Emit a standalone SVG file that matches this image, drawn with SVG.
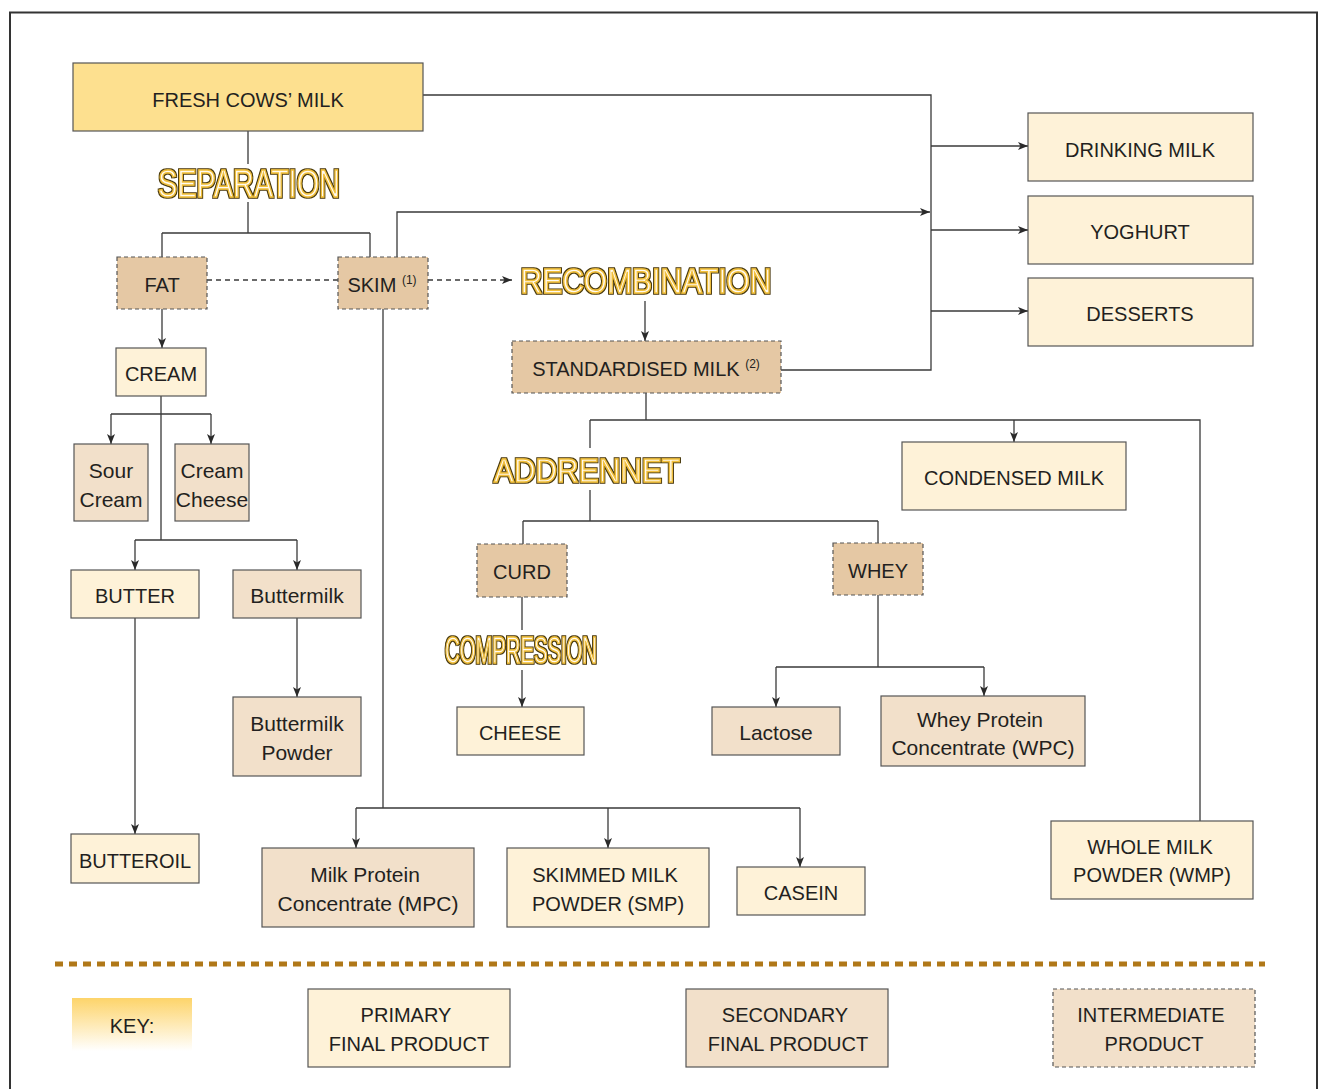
<svg xmlns="http://www.w3.org/2000/svg" width="1319" height="1089" viewBox="0 0 1319 1089">
<defs>
<style>
.n{stroke:#555;stroke-width:1.2}
.fresh{fill:#fde08f}
.pri{fill:#fef2d8}
.sec{fill:#f2e0ca}
.int{fill:#e5c8a4;stroke-dasharray:4 3}
.intk{fill:#f2e0ca;stroke-dasharray:4 3}
.t{font-family:"Liberation Sans",Arial,sans-serif;font-size:20px;fill:#231f20;text-anchor:middle}
.tl{font-size:21px}
.sup{font-size:12px}
.ttl{font-family:"Liberation Sans",Arial,sans-serif;fill:#fffaf0;stroke:#f2c03c;stroke-width:1.5;text-anchor:middle;filter:url(#outl)}
.c{fill:none;stroke:#3a3a3a;stroke-width:1.3}
.a{marker-end:url(#arr)}
.d{stroke-dasharray:5 4}
</style>
<marker id="arr" markerUnits="userSpaceOnUse" markerWidth="11" markerHeight="8" refX="10" refY="4" orient="auto">
<path d="M0,0 L10,4 L0,8 L2.5,4 z" fill="#2a2a2a"/>
</marker>
<filter id="outl" x="-5%" y="-30%" width="110%" height="160%">
<feMorphology in="SourceAlpha" operator="dilate" radius="0.6" result="d"/>
<feFlood flood-color="#4a3a10"/>
<feComposite in2="d" operator="in" result="o"/>
<feMerge><feMergeNode in="o"/><feMergeNode in="SourceGraphic"/></feMerge>
</filter>
<linearGradient id="keyg" x1="0" y1="0" x2="0" y2="1">
<stop offset="0" stop-color="#fdd46a"/>
<stop offset="1" stop-color="#ffffff"/>
</linearGradient>
</defs>
<rect x="0" y="0" width="1319" height="1089" fill="#fff"/>
<rect x="10" y="12.5" width="1307" height="1100" fill="none" stroke="#333" stroke-width="2"/>

<g id="connectors">
<path class="c" d="M248,131 V164 M248,202 V233 M162,233 H370 M162,233 V257 M370,233 V257"/>
<path class="c" d="M423,95 H931 V370 H781"/>
<path class="c a" d="M931,146 H1028"/>
<path class="c a" d="M931,230 H1028"/>
<path class="c a" d="M931,311 H1028"/>
<path class="c a" d="M397,257 V212 H930"/>
<path class="c d" d="M207,280 H338"/>
<path class="c d a" d="M428,280 H512"/>
<path class="c a" d="M162,309 V348"/>
<path class="c" d="M161,396 V540 M111,414 H211 M135,540 H297"/>
<path class="c a" d="M111,414 V444"/>
<path class="c a" d="M211,414 V444"/>
<path class="c a" d="M135,540 V570"/>
<path class="c a" d="M297,540 V570"/>
<path class="c a" d="M297,618 V697"/>
<path class="c a" d="M135,618 V834"/>
<path class="c" d="M383,309 V808 M356,808 H800"/>
<path class="c a" d="M356,808 V848"/>
<path class="c a" d="M608,808 V848"/>
<path class="c a" d="M800,808 V867"/>
<path class="c a" d="M645,301 V341"/>
<path class="c" d="M646,393 V420 M590,420 H1200 V821 M590,420 V448 M590,490 V521 M523,521 H878 M523,521 V544 M878,521 V543"/>
<path class="c a" d="M1014,420 V442"/>
<path class="c" d="M522,597 V630"/>
<path class="c a" d="M522,670 V707"/>
<path class="c" d="M878,595 V667 M776,667 H984"/>
<path class="c a" d="M776,667 V707"/>
<path class="c a" d="M984,667 V696"/>
</g>

<g id="labels">
<text class="ttl" x="249" y="197" font-size="38" textLength="182" lengthAdjust="spacingAndGlyphs">SEPARATION</text>
<text class="ttl" x="646" y="293" font-size="35" textLength="251" lengthAdjust="spacingAndGlyphs">RECOMBINATION</text>
<text class="ttl" x="587" y="482" font-size="34" textLength="186" lengthAdjust="spacingAndGlyphs">ADDRENNET</text>
<text class="ttl" x="521" y="663" font-size="36" textLength="152" lengthAdjust="spacingAndGlyphs">COMPRESSION</text>
</g>

<g id="fresh"><rect class="n fresh" x="73" y="63" width="350" height="68"/><text class="t" x="248" y="107">FRESH COWS’ MILK</text></g>
<g id="drinking"><rect class="n pri" x="1028" y="113" width="225" height="68"/><text class="t" x="1140" y="157">DRINKING MILK</text></g>
<g id="yoghurt"><rect class="n pri" x="1028" y="196" width="225" height="68"/><text class="t" x="1140" y="239">YOGHURT</text></g>
<g id="desserts"><rect class="n pri" x="1028" y="278" width="225" height="68"/><text class="t" x="1140" y="321">DESSERTS</text></g>
<g id="fat"><rect class="n int" x="117" y="257" width="90" height="52"/><text class="t" x="162" y="292">FAT</text></g>
<g id="skim"><rect class="n int" x="338" y="257" width="90" height="52"/><text class="t" x="382" y="292">SKIM <tspan class="sup" dy="-8">(1)</tspan></text></g>
<g id="cream"><rect class="n pri" x="116" y="348" width="90" height="48"/><text class="t" x="161" y="381">CREAM</text></g>
<g id="sourcream"><rect class="n sec" x="74" y="444" width="74" height="77"/><text class="t tl" x="111" y="478">Sour</text><text class="t tl" x="111" y="507">Cream</text></g>
<g id="creamcheese"><rect class="n sec" x="175" y="444" width="74" height="77"/><text class="t tl" x="212" y="478">Cream</text><text class="t tl" x="212" y="507">Cheese</text></g>
<g id="butter"><rect class="n pri" x="71" y="570" width="128" height="48"/><text class="t" x="135" y="603">BUTTER</text></g>
<g id="buttermilk"><rect class="n sec" x="233" y="570" width="128" height="48"/><text class="t tl" x="297" y="603">Buttermilk</text></g>
<g id="buttermilkpowder"><rect class="n sec" x="233" y="697" width="128" height="79"/><text class="t tl" x="297" y="731">Buttermilk</text><text class="t tl" x="297" y="760">Powder</text></g>
<g id="butteroil"><rect class="n pri" x="71" y="834" width="128" height="49"/><text class="t" x="135" y="868">BUTTEROIL</text></g>
<g id="standardised"><rect class="n int" x="512" y="341" width="269" height="52"/><text class="t" x="646" y="376">STANDARDISED MILK <tspan class="sup" dy="-8">(2)</tspan></text></g>
<g id="condensed"><rect class="n pri" x="902" y="442" width="224" height="68"/><text class="t" x="1014" y="485">CONDENSED MILK</text></g>
<g id="curd"><rect class="n int" x="477" y="544" width="90" height="53"/><text class="t" x="522" y="579">CURD</text></g>
<g id="whey"><rect class="n int" x="833" y="543" width="90" height="52"/><text class="t" x="878" y="578">WHEY</text></g>
<g id="cheese"><rect class="n pri" x="457" y="707" width="127" height="48"/><text class="t" x="520" y="740">CHEESE</text></g>
<g id="lactose"><rect class="n sec" x="712" y="707" width="128" height="48"/><text class="t tl" x="776" y="740">Lactose</text></g>
<g id="wpc"><rect class="n sec" x="881" y="696" width="204" height="70"/><text class="t tl" x="980" y="727">Whey Protein</text><text class="t tl" x="983" y="755">Concentrate (WPC)</text></g>
<g id="wmp"><rect class="n pri" x="1051" y="821" width="202" height="78"/><text class="t" x="1150" y="854">WHOLE MILK</text><text class="t" x="1152" y="882">POWDER (WMP)</text></g>
<g id="mpc"><rect class="n sec" x="262" y="848" width="212" height="79"/><text class="t tl" x="365" y="882">Milk Protein</text><text class="t tl" x="368" y="911">Concentrate (MPC)</text></g>
<g id="smp"><rect class="n pri" x="507" y="848" width="202" height="79"/><text class="t" x="605" y="882">SKIMMED MILK</text><text class="t" x="608" y="911">POWDER (SMP)</text></g>
<g id="casein"><rect class="n pri" x="737" y="867" width="128" height="48"/><text class="t" x="801" y="900">CASEIN</text></g>

<g id="key">
<line x1="55" y1="964" x2="1265" y2="964" stroke="#b07818" stroke-width="5" stroke-dasharray="8 6"/>
<rect x="72" y="998" width="120" height="53" fill="url(#keyg)"/>
<text class="t" x="132" y="1033">KEY:</text>
<g id="key-primary"><rect class="n pri" x="308" y="989" width="202" height="78"/><text class="t" x="406" y="1022">PRIMARY</text><text class="t" x="409" y="1051">FINAL PRODUCT</text></g>
<g id="key-secondary"><rect class="n sec" x="686" y="989" width="202" height="78"/><text class="t" x="785" y="1022">SECONDARY</text><text class="t" x="788" y="1051">FINAL PRODUCT</text></g>
<g id="key-intermediate"><rect class="n intk" x="1053" y="989" width="202" height="78"/><text class="t" x="1151" y="1022">INTERMEDIATE</text><text class="t" x="1154" y="1051">PRODUCT</text></g>
</g>
</svg>
